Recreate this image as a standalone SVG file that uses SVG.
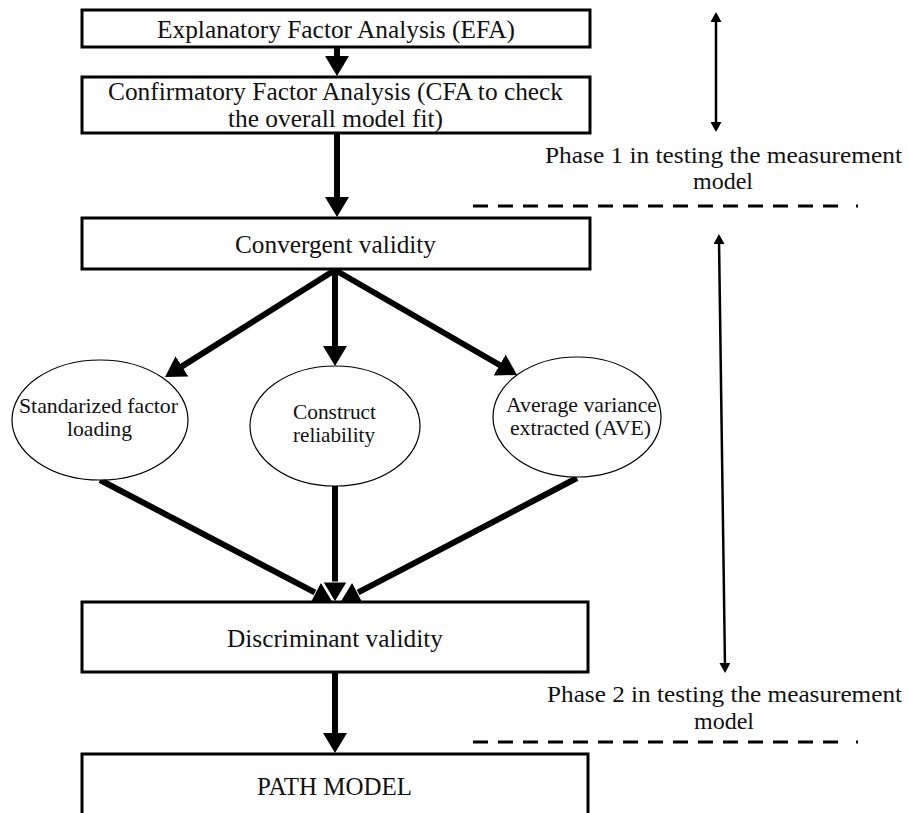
<svg xmlns="http://www.w3.org/2000/svg" width="908" height="813" viewBox="0 0 908 813">
<defs>
<style>
.box{fill:#fff;stroke:#000;stroke-width:3}
.ell{fill:#fff;stroke:#000;stroke-width:1.2}
.t{font-family:"Liberation Serif","Times New Roman",serif;font-size:25px;fill:#111;text-anchor:middle}
.tp{font-family:"Liberation Serif","Times New Roman",serif;font-size:24px;fill:#111;text-anchor:middle}
.te{font-family:"Liberation Serif","Times New Roman",serif;font-size:21px;fill:#111;text-anchor:middle}
.conn{stroke:#000;stroke-width:6;fill:none}
.thin{stroke:#000;stroke-width:2.5;fill:none}
.dash{stroke:#000;stroke-width:3;stroke-dasharray:15 10;fill:none}
</style>
<marker id="head" markerUnits="userSpaceOnUse" viewBox="0 0 20 24" markerWidth="20" markerHeight="24" refX="8" refY="12" orient="auto">
<path d="M0,0 L20,12 L0,24 z" fill="#000"/>
</marker>
<marker id="headw" markerUnits="userSpaceOnUse" viewBox="-1 -1 22 26" markerWidth="22" markerHeight="26" refX="8" refY="12" orient="auto">
<path d="M0,0 L20,12 L0,24 z" fill="#000" stroke="#fff" stroke-width="1"/>
</marker>
<marker id="small" markerUnits="userSpaceOnUse" viewBox="0 0 10 11" markerWidth="10" markerHeight="11" refX="4" refY="5.5" orient="auto-start-reverse">
<path d="M0,0 L10,5.5 L0,11 z" fill="#000"/>
</marker>
</defs>
<rect width="908" height="813" fill="#fff"/>

<g id="connectors">
<line class="conn" x1="337" y1="47" x2="337" y2="64" marker-end="url(#head)"/>
<line class="conn" x1="337" y1="133" x2="337" y2="205" marker-end="url(#head)"/>
<line class="conn" x1="335" y1="270" x2="175.2" y2="370.6" marker-end="url(#head)"/>
<line class="conn" x1="335" y1="270" x2="335" y2="354" marker-end="url(#head)"/>
<line class="conn" x1="335" y1="270" x2="506.6" y2="369" marker-end="url(#head)"/>
<line class="conn" x1="100" y1="480" x2="322.4" y2="596.4" marker-end="url(#headw)"/>
<line class="conn" x1="577" y1="478" x2="350.6" y2="596.4" marker-end="url(#headw)"/>
<line class="conn" x1="335" y1="486" x2="335" y2="590" marker-end="url(#headw)"/>
<line class="conn" x1="335" y1="672" x2="335" y2="741" marker-end="url(#head)"/>
</g>

<g id="efa">
<rect class="box" x="82" y="10" width="508" height="37"/>
<text class="t" x="336" y="38" textLength="358" lengthAdjust="spacingAndGlyphs">Explanatory Factor Analysis (EFA)</text>
</g>
<g id="cfa">
<rect class="box" x="82" y="77" width="508" height="56"/>
<text class="t" x="335.5" y="100" textLength="455" lengthAdjust="spacingAndGlyphs">Confirmatory Factor Analysis (CFA to check</text>
<text class="t" x="335.5" y="127" textLength="215" lengthAdjust="spacingAndGlyphs">the overall model fit)</text>
</g>
<g id="convergent">
<rect class="box" x="82" y="218" width="508" height="51"/>
<text class="t" x="335.5" y="253" textLength="201" lengthAdjust="spacingAndGlyphs">Convergent validity</text>
</g>
<g id="sfl">
<ellipse class="ell" cx="100" cy="420" rx="88" ry="60"/>
<text class="te" x="98.5" y="413" textLength="159" lengthAdjust="spacingAndGlyphs">Standarized factor</text>
<text class="te" x="99.5" y="436" textLength="65" lengthAdjust="spacingAndGlyphs">loading</text>
</g>
<g id="cr">
<ellipse class="ell" cx="335" cy="426" rx="85" ry="60"/>
<text class="te" x="334.5" y="419" textLength="83" lengthAdjust="spacingAndGlyphs">Construct</text>
<text class="te" x="334" y="442" textLength="82" lengthAdjust="spacingAndGlyphs">reliability</text>
</g>
<g id="ave">
<ellipse class="ell" cx="577" cy="417" rx="84" ry="60"/>
<text class="te" x="581.5" y="412" textLength="151" lengthAdjust="spacingAndGlyphs">Average variance</text>
<text class="te" x="580.5" y="435" textLength="141" lengthAdjust="spacingAndGlyphs">extracted (AVE)</text>
</g>
<g id="discriminant">
<rect class="box" x="82" y="602" width="506" height="70"/>
<text class="t" x="335" y="647" textLength="216" lengthAdjust="spacingAndGlyphs">Discriminant validity</text>
</g>
<g id="path-model">
<rect class="box" x="82" y="754" width="506" height="80"/>
<text class="t" x="334.5" y="795" textLength="155" lengthAdjust="spacingAndGlyphs">PATH MODEL</text>
</g>

<g id="phase1">
<line class="thin" x1="716" y1="18" x2="716" y2="126" marker-start="url(#small)" marker-end="url(#small)"/>
<text class="tp" x="723.5" y="163" textLength="357" lengthAdjust="spacingAndGlyphs">Phase 1 in testing the measurement</text>
<text class="tp" x="723" y="189">model</text>
<line class="dash" x1="473" y1="206" x2="845" y2="206"/>
<line stroke="#000" stroke-width="3" x1="856" y1="206" x2="858" y2="206"/>
</g>
<g id="phase2">
<line class="thin" x1="719" y1="240" x2="725" y2="667" marker-start="url(#small)" marker-end="url(#small)"/>
<text class="tp" x="724.5" y="702" textLength="355" lengthAdjust="spacingAndGlyphs">Phase 2 in testing the measurement</text>
<text class="tp" x="724" y="729">model</text>
<line class="dash" x1="473" y1="742" x2="845" y2="742"/>
<line stroke="#000" stroke-width="3" x1="856" y1="742" x2="858" y2="742"/>
</g>
</svg>
